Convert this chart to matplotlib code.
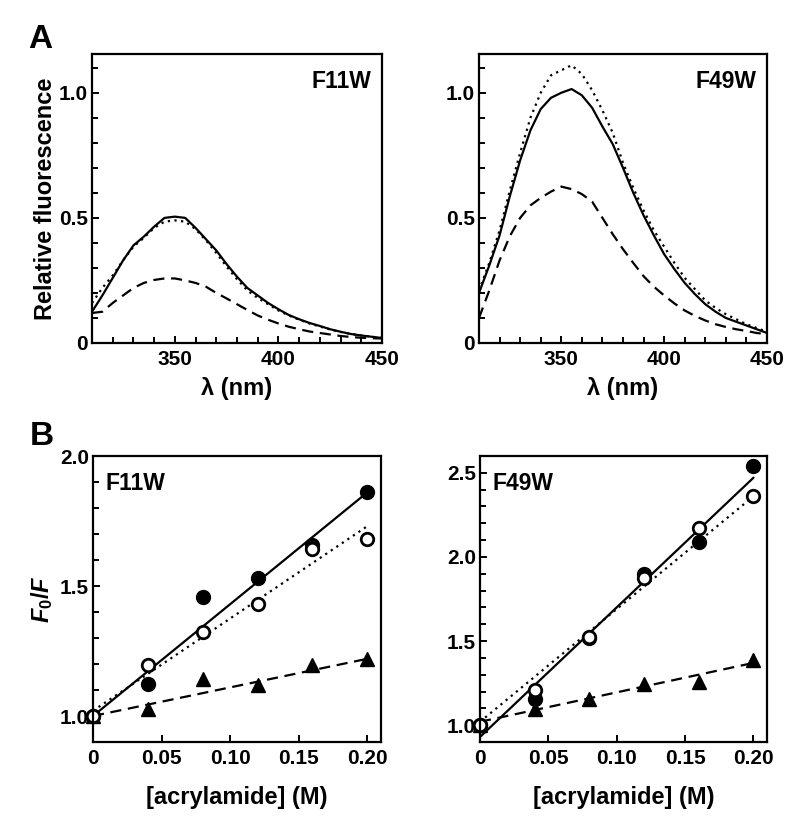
import numpy as np
import matplotlib
matplotlib.use("Agg")
import matplotlib.pyplot as plt
from matplotlib.ticker import MultipleLocator, FixedLocator

plt.rcParams['font.family'] = ['Liberation Sans', 'DejaVu Sans']
plt.rcParams['font.weight'] = 'bold'
plt.rcParams['mathtext.fontset'] = 'custom'
plt.rcParams['mathtext.rm'] = 'Liberation Sans:bold'
plt.rcParams['mathtext.it'] = 'Liberation Sans:bold:italic'
plt.rcParams['mathtext.bf'] = 'Liberation Sans:bold'

# --- panel A: emission spectra ---
wl = np.arange(310, 451, 5)

f11w_solid = [0.125, 0.19, 0.26, 0.33, 0.39, 0.425, 0.465, 0.50, 0.505, 0.50,
              0.46, 0.415, 0.37, 0.315, 0.265, 0.22, 0.19, 0.16, 0.135, 0.112,
              0.095, 0.08, 0.068, 0.055, 0.045, 0.036, 0.03, 0.025, 0.02]
f11w_dot = [0.16, 0.22, 0.27, 0.33, 0.385, 0.42, 0.46, 0.485, 0.49, 0.485,
            0.455, 0.41, 0.36, 0.305, 0.255, 0.21, 0.18, 0.155, 0.13, 0.11,
            0.093, 0.078, 0.066, 0.054, 0.044, 0.036, 0.03, 0.025, 0.02]
f11w_dash = [0.12, 0.125, 0.16, 0.19, 0.22, 0.24, 0.252, 0.258, 0.258, 0.25,
             0.24, 0.225, 0.20, 0.178, 0.155, 0.132, 0.11, 0.093, 0.078, 0.065,
             0.055, 0.046, 0.04, 0.034, 0.028, 0.024, 0.021, 0.019, 0.018]

f49w_solid = [0.20, 0.31, 0.43, 0.587, 0.73, 0.85, 0.935, 0.98, 1.0, 1.015,
              0.99, 0.94, 0.865, 0.795, 0.70, 0.60, 0.51, 0.43, 0.355, 0.295,
              0.24, 0.195, 0.155, 0.125, 0.10, 0.085, 0.07, 0.055, 0.04]
f49w_dot = [0.21, 0.32, 0.45, 0.61, 0.76, 0.90, 1.0, 1.07, 1.09, 1.11,
            1.075, 1.01, 0.93, 0.84, 0.72, 0.62, 0.53, 0.45, 0.385, 0.32,
            0.26, 0.215, 0.17, 0.14, 0.115, 0.095, 0.075, 0.06, 0.045]
f49w_dash = [0.10, 0.21, 0.33, 0.427, 0.50, 0.55, 0.58, 0.605, 0.625, 0.615,
             0.595, 0.565, 0.50, 0.435, 0.375, 0.32, 0.267, 0.225, 0.19, 0.158,
             0.13, 0.108, 0.09, 0.075, 0.064, 0.055, 0.048, 0.04, 0.035]

# --- panel B: Stern-Volmer plots ---
conc = [0, 0.04, 0.08, 0.12, 0.16, 0.20]

f11w_filled = [1.0, 1.125, 1.458, 1.532, 1.659, 1.863]
f11w_open = [1.0, 1.197, 1.324, 1.43, 1.642, 1.68]
f11w_tri = [1.0, 1.027, 1.141, 1.118, 1.195, 1.218]
f11w_slope = [4.3, 3.55, 1.1]
f11w_icpt = [1.0, 1.02, 1.0]

f49w_filled = [1.0, 1.158, 1.52, 1.899, 2.087, 2.54]
f49w_open = [1.0, 1.207, 1.524, 1.875, 2.17, 2.364]
f49w_tri = [1.0, 1.099, 1.154, 1.247, 1.257, 1.385]
f49w_slope = [7.7, 6.7, 1.75]
f49w_icpt = [0.93, 1.02, 1.02]

fig = plt.figure(figsize=(8, 8.21), dpi=100)
W, H = 800.0, 821.0


def add_ax(x0, x1, top, bot):
    return fig.add_axes([x0 / W, (H - bot) / H, (x1 - x0) / W, (bot - top) / H])


axA1 = add_ax(92, 382, 54, 343)
axA2 = add_ax(479, 767, 54, 343)
axB1 = add_ax(93, 381, 456, 742)
axB2 = add_ax(480, 767, 456, 742)

dotted = (0, (1, 2))
dashed = (0, (5, 3))

for ax, sol, dot, dash, name in [(axA1, f11w_solid, f11w_dot, f11w_dash, "F11W"),
                                 (axA2, f49w_solid, f49w_dot, f49w_dash, "F49W")]:
    ax.plot(wl, sol, color='black', lw=1.6)
    ax.plot(wl, dot, color='black', lw=1.6, linestyle=dotted)
    ax.plot(wl, dash, color='black', lw=1.6, linestyle=dashed)
    ax.set_xlim(310, 450)
    ax.set_ylim(0, 1.155)
    ax.xaxis.set_major_locator(FixedLocator([350, 400, 450]))
    ax.xaxis.set_minor_locator(MultipleLocator(10))
    ax.yaxis.set_major_locator(FixedLocator([0, 0.5, 1.0]))
    ax.yaxis.set_minor_locator(MultipleLocator(0.1))
    ax.set_yticklabels(["0", "0.5", "1.0"])
    ax.set_xlabel("λ (nm)", fontsize=17, fontweight='bold', labelpad=6)
    ax.text(0.965, 0.945, name, transform=ax.transAxes, ha='right', va='top',
            fontsize=16.5, fontweight='bold')

axA1.set_ylabel("Relative fluorescence", fontsize=17, fontweight='bold')
axA1.yaxis.set_label_coords(-0.122, 0.5)

xfit = np.array([0, 0.2])
for ax, filled, opn, tri, slope, icpt, name, ylim, yt in [
        (axB1, f11w_filled, f11w_open, f11w_tri, f11w_slope, f11w_icpt, "F11W",
         (0.9, 2.0), [1.0, 1.5, 2.0]),
        (axB2, f49w_filled, f49w_open, f49w_tri, f49w_slope, f49w_icpt, "F49W",
         (0.9, 2.6), [1.0, 1.5, 2.0, 2.5])]:
    styles = ['-', dotted, dashed]
    for k, b, ls in zip(slope, icpt, styles):
        ax.plot(xfit, b + k * xfit, color='black', lw=1.6, linestyle=ls)
    ax.plot(conc, tri, '^', color='black', ms=10, clip_on=False)
    ax.plot(conc, filled, 'o', color='black', ms=10, clip_on=False)
    ax.plot(conc, opn, 'o', mfc='white', mec='black', mew=2, ms=9, clip_on=False)
    ax.set_xlim(0, 0.21)
    ax.set_ylim(*ylim)
    ax.set_xticks([0, 0.05, 0.10, 0.15, 0.20])
    ax.set_xticklabels(["0", "0.05", "0.10", "0.15", "0.20"])
    ax.set_yticks(yt)
    ax.set_yticklabels([f"{v:.1f}" for v in yt])
    ax.yaxis.set_minor_locator(MultipleLocator(0.1))
    ax.set_xlabel("[acrylamide] (M)", fontsize=17, fontweight='bold', labelpad=13)
    ax.text(0.045, 0.945, name, transform=ax.transAxes, ha='left', va='top',
            fontsize=16.5, fontweight='bold')

axB1.set_ylabel(r"$F_0/F$", fontsize=17)
axB1.yaxis.set_label_coords(-0.132, 0.5)

for ax in [axA1, axA2, axB1, axB2]:
    for s in ax.spines.values():
        s.set_linewidth(1.6)
    ax.tick_params(which='both', direction='in', width=1.4, labelsize=15)
    ax.tick_params(axis='x', pad=5)
    ax.tick_params(axis='y', pad=3)
    ax.tick_params(which='major', length=5)
    ax.tick_params(which='minor', length=4)
    for lab in ax.get_xticklabels() + ax.get_yticklabels():
        lab.set_fontweight('bold')

fig.text(28 / W, 1 - 24 / H, "A", fontsize=24, fontweight='bold', va='top')
fig.text(30 / W, 1 - 421 / H, "B", fontsize=24, fontweight='bold', va='top')

fig.savefig("out.png", dpi=100)
